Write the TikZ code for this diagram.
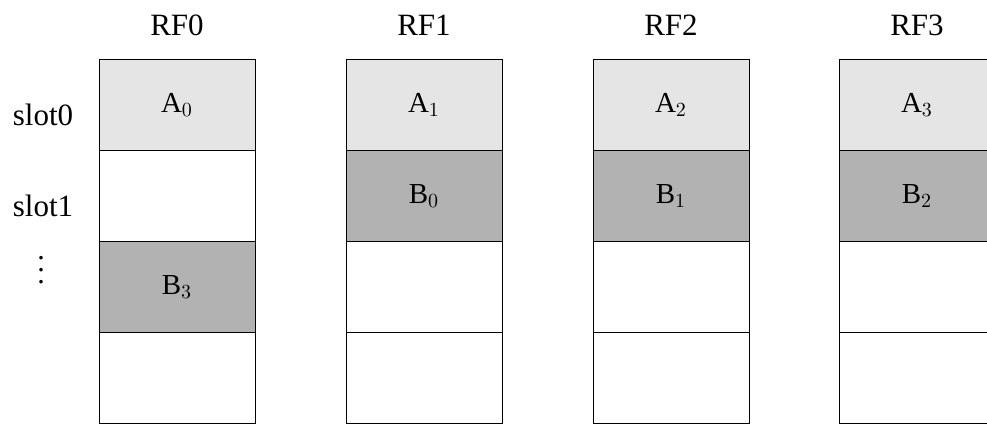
\documentclass[tikz,border=0pt]{standalone}
\usepackage[no-math]{fontspec}
\setmainfont{Liberation Serif}
\usetikzlibrary{positioning}
\definecolor{slotlight}{gray}{0.9}
\definecolor{slotdark}{gray}{0.7}

\begin{document}
\begin{tikzpicture}[x=0.5pt,y=0.5pt,line width=0.5pt,
  font=\fontsize{15.5}{18}\selectfont,
  cell/.style={draw,minimum width=78pt,minimum height=45.45pt,inner sep=0pt,outer sep=0pt,
    font=\fontsize{14.5}{17}\selectfont},
  first/.style={cell,fill=slotlight},
  second/.style={cell,fill=slotdark}]
  \useasboundingbox (0,0) rectangle (987,428);

  % register file 0: B3 wraps round to slot 2
  \node[first,anchor=north west] (rf0-0) at (99,368.5) {A$_0$};
  \node[cell,below=0pt of rf0-0] (rf0-1) {};
  \node[second,below=0pt of rf0-1] (rf0-2) {B$_3$};
  \node[cell,below=0pt of rf0-2] (rf0-3) {};

  % register files 1-3
  \node[first,anchor=north west] (rf1-0) at (346,368.5) {A$_1$};
  \node[second,below=0pt of rf1-0] (rf1-1) {B$_0$};
  \node[first,anchor=north west] (rf2-0) at (593,368.5) {A$_2$};
  \node[second,below=0pt of rf2-0] (rf2-1) {B$_1$};
  \node[first,anchor=north west] (rf3-0) at (839,368.5) {A$_3$};
  \node[second,below=0pt of rf3-0] (rf3-1) {B$_2$};
  \foreach \c in {1,2,3}{
    \node[cell,below=0pt of rf\c-1] (rf\c-2) {};
    \node[cell,below=0pt of rf\c-2] (rf\c-3) {};
  }

  % headers
  \foreach \c in {0,1,2,3}{
    \node[anchor=base] (rf\c) at (rf\c-0.north |- 0,392) {RF\c};
  }

  % slot labels
  \node[anchor=base] (slot0) at (43,302) {slot0};
  \node[anchor=base] (slot1) at (43,211) {slot1};
  \node[font=\fontsize{10}{12}\selectfont,scale=1.5] (dots) at (41,167) {$\vdots$};
\end{tikzpicture}
\end{document}
